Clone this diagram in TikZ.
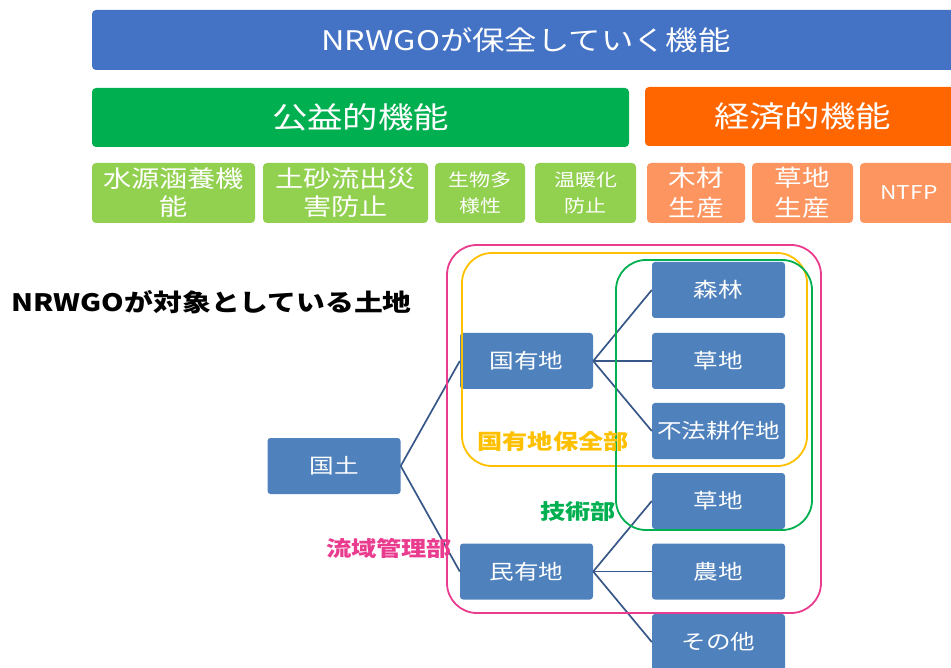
\documentclass[tikz,border=0pt]{standalone}
\usepackage{fontspec}
\newfontfamily\jp{Noto Sans CJK JP}[FakeStretch=1.2]
\definecolor{topblue}{HTML}{4472C4}
\definecolor{pubgreen}{HTML}{00B050}
\definecolor{ecoorange}{HTML}{FF6600}
\definecolor{lightgreen}{HTML}{92D050}
\definecolor{lightorange}{HTML}{FC9560}
\definecolor{landblue}{HTML}{4F81BD}
\definecolor{linkblue}{HTML}{375788}
\definecolor{basinpink}{HTML}{EA3C8F}
\definecolor{stateyellow}{HTML}{FFC000}
\definecolor{techgreen}{HTML}{00B050}

\begin{document}
\begin{tikzpicture}[x=1pt,y=-1pt,
  bar/.style={rectangle,rounded corners=4pt,text=white,inner sep=0pt},
  funcbox/.style={rectangle,rounded corners=4pt,text=white,inner sep=0pt,
    minimum height=60pt,align=center,font=\jp\fontsize{23.5}{28}\selectfont},
  landbox/.style={rectangle,rounded corners=3pt,fill=landblue,text=white,inner sep=0pt,
    minimum width=133pt,minimum height=56pt,font=\jp\fontsize{20.5}{24}\selectfont},
  link/.style={linkblue,line width=1.7pt},
  dept/.style={line width=1.8pt,rounded corners=30pt},
  deptlabel/.style={font=\jp\bfseries\fontsize{21}{24}\selectfont}]
\useasboundingbox (0,0) rectangle (951,668);

% functions
\node[bar,fill=topblue,minimum width=868pt,minimum height=60pt,font=\jp\fontsize{27}{30}\selectfont] (top) at (526,40) {NRWGOが保全していく機能};
\node[bar,fill=pubgreen,minimum width=537pt,minimum height=59pt,font=\jp\fontsize{29.5}{32}\selectfont] (public) at (360.5,117.5) {公益的機能};
\node[bar,fill=ecoorange,minimum width=315pt,minimum height=59pt,font=\jp\fontsize{29.5}{32}\selectfont] (economic) at (802.5,116.5) {経済的機能};

\node[funcbox,fill=lightgreen,minimum width=163pt] (suigen) at (173.5,193) {水源涵養機\\能};
\node[funcbox,fill=lightgreen,minimum width=165pt] (dosha) at (345.5,193) {土砂流出災\\害防止};
\node[funcbox,fill=lightgreen,minimum width=90pt,font=\jp\fontsize{17.5}{26}\selectfont] (seibutsu) at (480,193) {生物多\\様性};
\node[funcbox,fill=lightgreen,minimum width=101pt,font=\jp\fontsize{17.5}{26}\selectfont] (ondan) at (585.5,193) {温暖化\\防止};
\node[funcbox,fill=lightorange,minimum width=98pt,font=\jp\fontsize{23}{30}\selectfont] (mokuzai) at (696,193) {木材\\生産};
\node[funcbox,fill=lightorange,minimum width=101pt,font=\jp\fontsize{23}{30}\selectfont] (souchiP) at (802.5,193) {草地\\生産};
\node[funcbox,fill=lightorange,minimum width=98pt,font=\jp\fontsize{19}{24}\selectfont] (ntfp) at (909,193) {NTFP};

% land
\node[anchor=west,font=\jp\bfseries\fontsize{24}{28}\selectfont] (title) at (8,302) {NRWGOが対象としている土地};

\node[landbox] (kokudo) at (334,466) {国土};
\node[landbox] (kokuyu) at (526.5,361) {国有地};
\node[landbox] (minyu) at (526.5,571.5) {民有地};

\node[landbox] (shinrin) at (718.5,290) {森林};
\node[landbox] (souchiA) at (718.5,361) {草地};
\node[landbox] (fuhou) at (718.5,431) {不法耕作地};
\node[landbox] (souchiB) at (718.5,501) {草地};
\node[landbox] (nouchi) at (718.5,571.5) {農地};
\node[landbox] (sonota) at (718.5,642) {その他};

\draw[link] (kokudo.east) -- (kokuyu.west);
\draw[link] (kokudo.east) -- (minyu.west);
\foreach \n in {shinrin,souchiA,fuhou}
  \draw[link] (kokuyu.east) -- (\n.west);
\foreach \n in {souchiB,nouchi,sonota}
  \draw[link] (minyu.east) -- (\n.west);

% departments
\draw[dept,basinpink] (447,245) rectangle (821,613);
\draw[dept,stateyellow] (462,253) rectangle (807,466);
\draw[dept,techgreen] (616,260) rectangle (812,530);

\node[deptlabel,text=stateyellow] (statelbl) at (553,441) {国有地保全部};
\node[deptlabel,text=techgreen] (techlbl) at (578,512) {技術部};
\node[deptlabel,text=basinpink] (basinlbl) at (389,548) {流域管理部};

\end{tikzpicture}
\end{document}
